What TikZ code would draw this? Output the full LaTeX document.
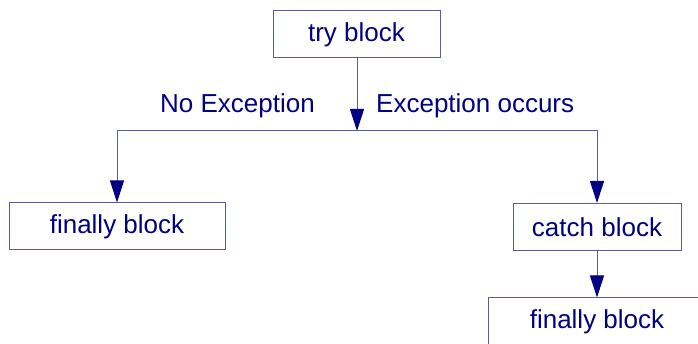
\documentclass[tikz,border=0pt]{standalone}
\usepackage{fontspec}
\setmainfont{Liberation Sans}
\usetikzlibrary{arrows.meta}
\definecolor{navytext}{RGB}{0,0,128}
\definecolor{linecol}{RGB}{90,90,170}
\begin{document}
\begin{tikzpicture}[x=1pt, y=-1pt,
   block/.style={draw=linecol, line width=1pt, minimum height=47pt, inner sep=0pt,
      text=navytext, font=\fontsize{26}{30}\selectfont},
   lbl/.style={text=navytext, font=\fontsize{26}{30}\selectfont, inner sep=0pt},
   arr/.style={draw=linecol, line width=1pt,
      -{Triangle[length=22pt, width=14pt, fill=navytext, color=navytext]}}]
   \useasboundingbox (0,0) rectangle (698,344);
   % Blocks
   \node[block, minimum width=167pt] (try) at (356.5,34.5) {try block};
   \node[block, minimum width=216pt] (fin1) at (117,226.5) {finally block};
   \node[block, minimum width=168pt] (catch) at (597,227) {catch block};
   \node[block, minimum width=218pt] (fin2) at (597,321.5) {finally block};
   % Branch labels
   \node[lbl, anchor=east] (noexc) at (315,106) {No Exception};
   \node[lbl, anchor=west] (exc) at (376,106) {Exception occurs};
   % Connectors
   \coordinate (split) at (357,131);
   \draw[arr] (try.south -| split) -- (split);
   \draw[draw=linecol, line width=1pt] (fin1.north |- split) -- (catch.north |- split);
   \draw[arr] (split) -| (fin1.north);
   \draw[arr] (split) -| (catch.north);
   \draw[arr] (catch) -- (fin2);
\end{tikzpicture}
\end{document}
